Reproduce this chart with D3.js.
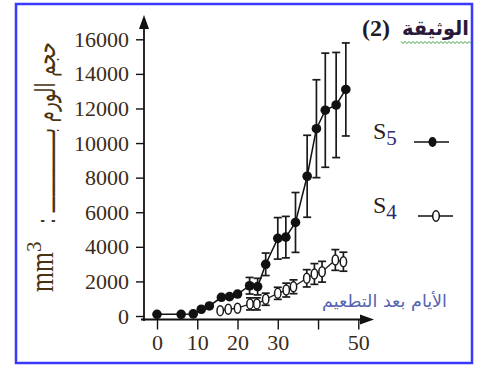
<!DOCTYPE html>
<html>
<head>
<meta charset="utf-8">
<script src="https://cdn.jsdelivr.net/npm/d3@7"></script>
<style>
  html, body { margin: 0; padding: 0; background: #fff; }
  svg { display: block; }
</style>
</head>
<body>
<script>
// Tumour volume (mm³) against days after vaccination, two groups
const s5Days   = [0, 6, 9, 11, 13, 16, 18, 20, 23, 25, 27, 30, 32, 34.4, 37.3, 39.6, 41.8, 44.5, 46.9];
const s5Values = [100, 100, 120, 390, 580, 1080, 1120, 1270, 1750, 1700, 2990, 4490, 4560, 5410, 8080, 10830, 11900, 12200, 13100];
const s5Errors = [0, 0, 0, 0, 0, 0, 0, 0, 480, 480, 650, 1200, 1200, 1730, 2370, 2830, 3300, 3040, 2690];

const s4Days   = [15.7, 17.7, 20, 23.1, 24.8, 27, 30, 32.1, 33.9, 37.2, 39.1, 41, 44.3, 46.3];
const s4Values = [310, 390, 450, 700, 700, 970, 1310, 1500, 1690, 2180, 2430, 2560, 3240, 3140];
const s4Errors = [0, 0, 0, 350, 350, 350, 350, 400, 400, 500, 600, 600, 600, 550];

const xTicks = [0, 10, 20, 30, 40, 50];
const xTickLabels = ["0", "10", "20", "30", "", "50"];
const yTicks = [0, 2000, 4000, 6000, 8000, 10000, 12000, 14000, 16000];

const W = 478, H = 365;
const svg = d3.select("body").append("svg").attr("width", W).attr("height", H);

svg.append("rect").attr("width", W).attr("height", H).attr("fill", "#fff");
// frame
svg.append("rect")
  .attr("x", 16).attr("y", 4).attr("width", 456).attr("height", 359)
  .attr("fill", "none").attr("stroke", "#3838ff").attr("stroke-width", 2.5);

const x = d3.scaleLinear().domain([0, 50]).range([157, 358.3]);
const y = d3.scaleLinear().domain([0, 16000]).range([316, 39.3]);

const serif = "'Liberation Serif', 'Times New Roman', serif";
const arabic = "'DejaVu Sans', sans-serif";
const tickColor = "#3a2c18";

// y axis
const yAxisX = 144;
const gy = svg.append("g").attr("transform", `translate(${yAxisX},0)`)
  .call(d3.axisLeft(y).tickValues(yTicks).tickSize(8).tickPadding(7).tickFormat(d3.format("d")));
gy.select(".domain").remove();
gy.selectAll(".tick line").attr("stroke", "#111").attr("stroke-width", 1.4);
gy.selectAll(".tick text").attr("font-family", serif).attr("font-size", 22).attr("fill", tickColor);

// x axis
const xAxisY = 319.5;
const gx = svg.append("g").attr("transform", `translate(0,${xAxisY})`)
  .call(d3.axisBottom(x).tickValues(xTicks).tickSize(10).tickPadding(5)
    .tickFormat((d, i) => xTickLabels[i]));
gx.select(".domain").remove();
gx.selectAll(".tick line").attr("stroke", "#111").attr("stroke-width", 1.4);
gx.selectAll(".tick text").attr("font-family", serif).attr("font-size", 22).attr("fill", tickColor);

// axis lines with arrow heads
svg.append("line").attr("x1", yAxisX).attr("x2", yAxisX).attr("y1", 321).attr("y2", 24)
  .attr("stroke", "#111").attr("stroke-width", 1.8);
svg.append("path").attr("d", `M${yAxisX},15 L${yAxisX - 5},29 L${yAxisX + 5},29 Z`).attr("fill", "#111");
svg.append("line").attr("x1", 141).attr("x2", 364).attr("y1", xAxisY).attr("y2", xAxisY)
  .attr("stroke", "#111").attr("stroke-width", 1.8);
svg.append("path").attr("d", `M374,${xAxisY} L360,${xAxisY - 5} L360,${xAxisY + 5} Z`).attr("fill", "#111");

// series helpers
function series(days, values, errors) {
  return days.map((d, i) => ({ d, v: values[i], e: errors[i] }));
}
const s5 = series(s5Days, s5Values, s5Errors);
const s4 = series(s4Days, s4Values, s4Errors);

const line = d3.line().x(p => x(p.d)).y(p => y(p.v));

function drawErrors(data, cls) {
  const g = svg.append("g").attr("class", cls).attr("stroke", "#1a1a1a").attr("stroke-width", 1.7);
  const withErr = data.filter(p => p.e > 0);
  g.selectAll("line.v").data(withErr).join("line").attr("class", "v")
    .attr("x1", p => x(p.d)).attr("x2", p => x(p.d))
    .attr("y1", p => y(p.v - p.e)).attr("y2", p => y(p.v + p.e));
  g.selectAll("line.t").data(withErr).join("line").attr("class", "t")
    .attr("x1", p => x(p.d) - 4).attr("x2", p => x(p.d) + 4)
    .attr("y1", p => y(p.v + p.e)).attr("y2", p => y(p.v + p.e));
  g.selectAll("line.b").data(withErr).join("line").attr("class", "b")
    .attr("x1", p => x(p.d) - 4).attr("x2", p => x(p.d) + 4)
    .attr("y1", p => y(p.v - p.e)).attr("y2", p => y(p.v - p.e));
}

// S4 (open markers)
drawErrors(s4, "err-s4");
svg.append("path").datum(s4).attr("d", line).attr("fill", "none")
  .attr("stroke", "#1a1a1a").attr("stroke-width", 1.3);
svg.append("g").selectAll("ellipse").data(s4).join("ellipse")
  .attr("cx", p => x(p.d)).attr("cy", p => y(p.v)).attr("rx", 3.2).attr("ry", 5)
  .attr("fill", "#fff").attr("stroke", "#1a1a1a").attr("stroke-width", 1.5);

// S5 (filled markers)
drawErrors(s5, "err-s5");
svg.append("path").datum(s5).attr("d", line).attr("fill", "none")
  .attr("stroke", "#111").attr("stroke-width", 1.5);
svg.append("g").selectAll("circle").data(s5).join("circle")
  .attr("cx", p => x(p.d)).attr("cy", p => y(p.v)).attr("r", 4.8)
  .attr("fill", "#111");

// legend
function legendLabel(xp, yp, sub) {
  const t = svg.append("text").attr("x", xp).attr("y", yp)
    .attr("font-family", serif).attr("font-size", 24).attr("fill", "#2a2018");
  t.append("tspan").text("S");
  t.append("tspan").attr("dy", 6).attr("font-size", 21).attr("fill", "#2a2a70").text(sub);
}
legendLabel(373, 139, "5");
legendLabel(373, 213, "4");
svg.append("line").attr("x1", 414).attr("x2", 449).attr("y1", 142).attr("y2", 142)
  .attr("stroke", "#111").attr("stroke-width", 1.5);
svg.append("ellipse").attr("cx", 432.5).attr("cy", 142).attr("rx", 4).attr("ry", 5).attr("fill", "#111");
svg.append("line").attr("x1", 418).attr("x2", 453).attr("y1", 216).attr("y2", 216)
  .attr("stroke", "#111").attr("stroke-width", 1.5);
svg.append("ellipse").attr("cx", 436).attr("cy", 216).attr("rx", 3.3).attr("ry", 5.2)
  .attr("fill", "#fff").attr("stroke", "#111").attr("stroke-width", 1.5);

// title
svg.append("text").attr("x", 362).attr("y", 36)
  .attr("font-family", serif).attr("font-size", 24).attr("font-weight", "bold").attr("fill", "#1e1a2a")
  .text("(2)");
svg.append("text").attr("x", 469).attr("y", 35).attr("text-anchor", "end")
  .attr("font-family", arabic).attr("font-size", 20).attr("font-weight", "bold").attr("fill", "#2a1a3a")
  .attr("textLength", 67).attr("lengthAdjust", "spacingAndGlyphs")
  .text("الوثيقة");
// spell-check style wavy underline
{
  const p = d3.path();
  p.moveTo(401, 41.5);
  for (let xi = 401, k = 0; xi < 470; xi += 2, k++) p.lineTo(xi + 2, k % 2 ? 41.5 : 43.5);
  svg.append("path").attr("d", p.toString()).attr("fill", "none").attr("stroke", "#3aa03a").attr("stroke-width", 1);
}

// x axis title
svg.append("text").attr("x", 447).attr("y", 307).attr("text-anchor", "end")
  .attr("font-family", arabic).attr("font-size", 17).attr("fill", "#5464b0")
  .attr("textLength", 125).attr("lengthAdjust", "spacingAndGlyphs")
  .text("الأيام بعد التطعيم");

// y axis title (rotated)
const yl = svg.append("text").attr("transform", "translate(53,292) rotate(-90)")
  .attr("font-family", serif).attr("fill", "#4a3410");
yl.append("tspan").attr("font-size", 34).attr("textLength", 40).attr("lengthAdjust", "spacingAndGlyphs").text("mm");
yl.append("tspan").attr("font-size", 21).attr("dy", -12).text("3");

svg.append("text").attr("transform", "translate(55,224) rotate(-90)")
  .attr("font-family", arabic).attr("font-size", 27).attr("fill", "#4a3410")
  .attr("textLength", 182).attr("lengthAdjust", "spacingAndGlyphs")
  .text(": حجم الورم بـــــــــــــــ");
</script>
</body>
</html>
